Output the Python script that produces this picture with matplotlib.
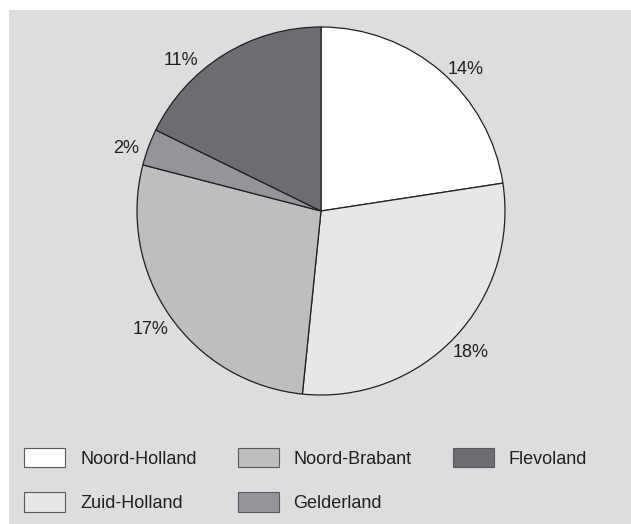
import numpy as np
import matplotlib.pyplot as plt
from matplotlib.patches import Rectangle

plt.rcParams['font.family'] = ['Liberation Sans', 'DejaVu Sans']

provinces = ['Noord-Holland', 'Zuid-Holland', 'Noord-Brabant', 'Gelderland', 'Flevoland']
shares = [14, 18, 17, 2, 11]
colors = ['#ffffff', '#e6e7e8', '#bcbec0', '#939598', '#6d6e71']
bg = '#dcdddf'

W, H = 631, 524
fig = plt.figure(figsize=(W / 100, H / 100), dpi=100, facecolor='white')
# grey panel, with a thin white margin on the top and left
fig.patches.append(Rectangle((9 / W, 0), 1 - 9 / W, 1 - 10 / H, transform=fig.transFigure,
                             facecolor=bg, edgecolor='none', zorder=-10))

ax = fig.add_axes([(321 - 184) / W, (H - 395) / H, 368 / W, 368 / H])
ax.set_facecolor('none')

wedges, texts = ax.pie(shares, colors=colors, startangle=90, counterclock=False,
                       labels=[f'{s}%' for s in shares],
                       wedgeprops=dict(edgecolor='#231f20', linewidth=0.9),
                       textprops=dict(fontsize=13, color='#231f20'))
# label placement: distance from centre and small angle shift per wedge
dist = [1.10, 1.12, 1.13, 1.11, 1.115]
shift = [-5, 0, 0, 2.6, 11]
for w, t, d, s in zip(wedges, texts, dist, shift):
    ang = np.deg2rad((w.theta1 + w.theta2) / 2 + s)
    t.set_position((d * np.cos(ang), d * np.sin(ang)))
    t.set_ha('center')
    t.set_va('center')
ax.set_xlim(-1, 1)
ax.set_ylim(-1, 1)
ax.set_aspect('equal')

fs = 13
px = fs * 100 / 72
leg = fig.legend(wedges, provinces, ncol=3, loc='upper left',
                 bbox_to_anchor=(24 / W, 1 - 448 / H), frameon=False,
                 borderpad=0, borderaxespad=0, fontsize=fs,
                 handlelength=41 / px, handleheight=23 / px,
                 handletextpad=15 / px,
                 columnspacing=41 / px, labelspacing=1.37)
for t in leg.get_texts():
    t.set_color('#231f20')
for h in leg.legend_handles:
    h.set_edgecolor('#58595b')
    h.set_linewidth(0.8)

fig.savefig('out.png', dpi=100, facecolor='white')
